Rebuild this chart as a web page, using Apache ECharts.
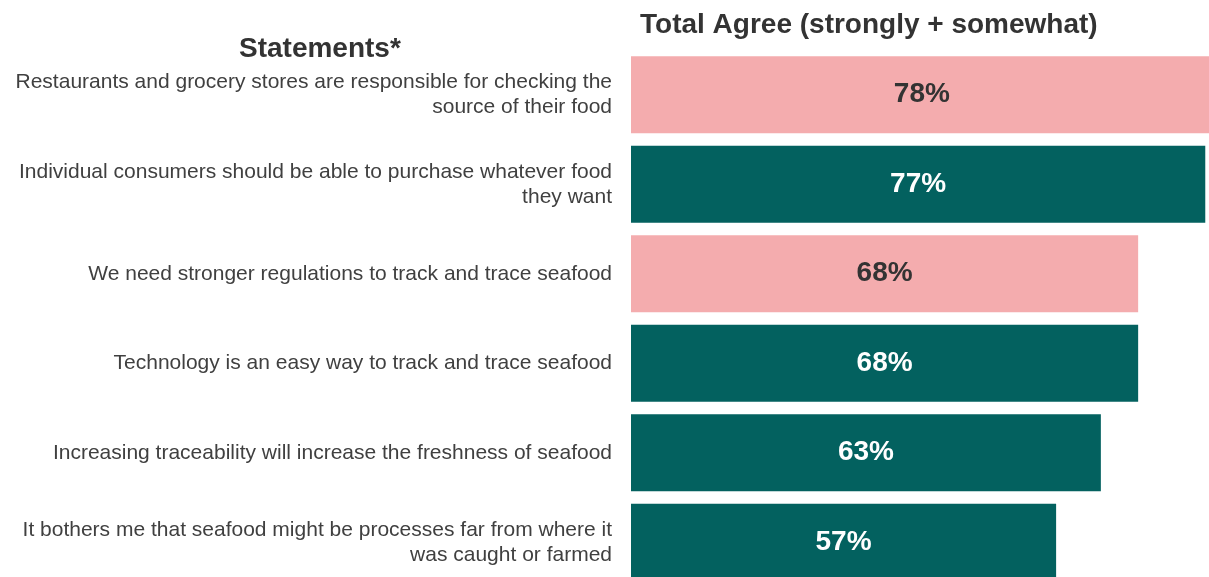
<!DOCTYPE html>
<html>
<head>
<meta charset="utf-8">
<script src="https://cdn.jsdelivr.net/npm/echarts@6/dist/echarts.min.js"></script>
<style>
html,body{margin:0;padding:0;background:#fff;overflow:hidden;}
#chart{width:1209px;height:590px;}
</style>
</head>
<body>
<div id="chart"></div>
<script>
const categories = [
  "Restaurants and grocery stores are responsible for checking the\nsource of their food",
  "Individual consumers should be able to purchase whatever food\nthey want",
  "We need stronger regulations to track and trace seafood",
  "Technology is an easy way to track and trace seafood",
  "Increasing traceability will increase the freshness of seafood",
  "It bothers me that seafood might be processes far from where it\nwas caught or farmed"
];
const totalAgree = [78, 77, 68, 68, 63, 57];
const barColors = ["#F4ACAE", "#03615F", "#F4ACAE", "#03615F", "#03615F", "#03615F"];
const labelColors = ["#333333", "#ffffff", "#333333", "#ffffff", "#ffffff", "#ffffff"];
const chartTitle = "Total Agree (strongly + somewhat)";
const axisTitle = "Statements*";

const chart = echarts.init(document.getElementById('chart'));
chart.setOption({
  animation: false,
  title: [
    { text: chartTitle, left: 635, top: 6,
      textStyle: { fontFamily: 'Liberation Sans', fontSize: 28, fontWeight: 'bold', color: '#333333' } },
    { text: axisTitle, left: 234, top: 30,
      textStyle: { fontFamily: 'Liberation Sans', fontSize: 28, fontWeight: 'bold', color: '#333333' } }
  ],
  grid: { left: 631, top: 50, width: 578, height: 537 },
  xAxis: { type: 'value', min: 0, max: 77.5, show: false },
  yAxis: {
    type: 'category', data: categories, inverse: true,
    axisLine: { show: false }, axisTick: { show: false },
    axisLabel: { margin: 19, fontFamily: 'Liberation Sans', fontSize: 21, lineHeight: 25, color: '#404040', align: 'right' }
  },
  series: [{
    type: 'bar',
    barWidth: 77,
    clip: false,
    data: totalAgree.map((v, i) => ({
      value: v,
      itemStyle: { color: barColors[i] },
      label: { color: labelColors[i] }
    })),
    label: {
      show: true, position: 'inside',
      formatter: p => p.value + '%',
      fontFamily: 'Liberation Sans', fontSize: 28, fontWeight: 'bold'
    }
  }]
});
</script>
</body>
</html>
